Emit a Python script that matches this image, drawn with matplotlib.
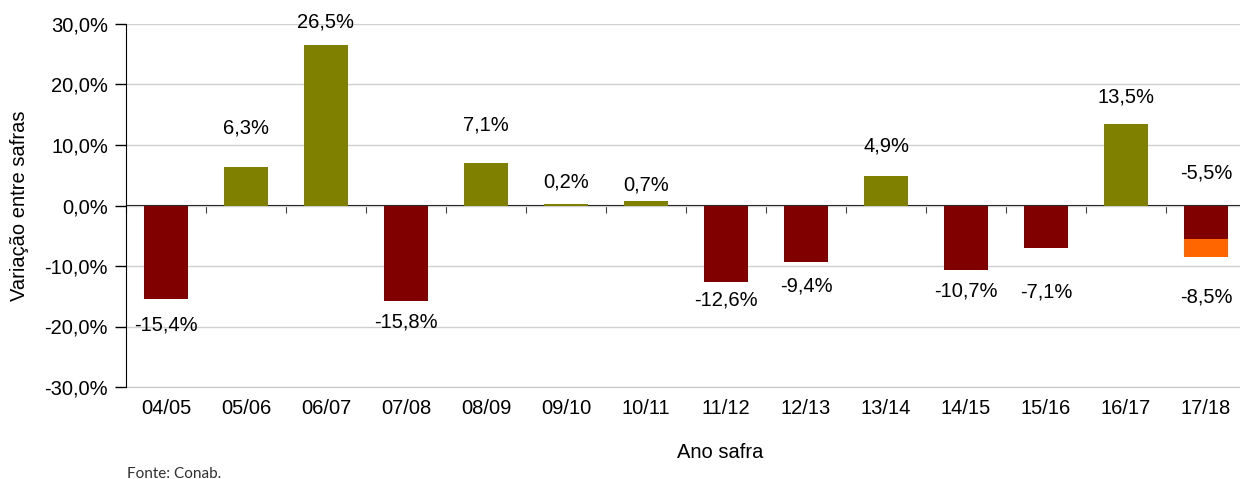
import matplotlib.pyplot as plt
import numpy as np

plt.rcParams['font.family'] = ['Liberation Sans', 'DejaVu Sans']

# Dados (variação entre safras, %)
safras = ['04/05', '05/06', '06/07', '07/08', '08/09', '09/10', '10/11',
          '11/12', '12/13', '13/14', '14/15', '15/16', '16/17', '17/18']
variacao = [-15.4, 6.3, 26.5, -15.8, 7.1, 0.2, 0.7,
            -12.6, -9.4, 4.9, -10.7, -7.1, 13.5, -5.5]
# faixa adicional da última safra (de -5,5% até -8,5%)
extra_1718 = -3.0
total_1718 = -8.5

# posição vertical dos rótulos (ajuste manual, como no original)
rotulo_y = [-19.7, 12.8, 30.3, -19.3, 13.3, 3.9, 3.4,
            -15.6, -13.3, 9.8, -14.1, -14.3, 17.9, 5.4]
rotulo_y_total = -15.1

x = np.arange(len(safras))
cores = ['#808000' if v >= 0 else '#800000' for v in variacao]
fs = 14.5

fig = plt.figure(figsize=(12.4, 4.79), dpi=100)
ax = fig.add_axes([126 / 1240, 92 / 479, 1120 / 1240, 363 / 479])

ax.bar(x, variacao, width=0.56, color=cores, zorder=3)
ax.bar(x[-1], extra_1718, bottom=variacao[-1], width=0.56, color='#FF6600', zorder=3)

for i, v in enumerate(variacao):
    ax.text(x[i], rotulo_y[i], f'{v:.1f}%'.replace('.', ','),
            ha='center', va='center', fontsize=fs)
ax.text(x[-1], rotulo_y_total, f'{total_1718:.1f}%'.replace('.', ','),
        ha='center', va='center', fontsize=fs)

# eixo y
ax.set_ylim(-30, 30)
ax.set_yticks(np.arange(-30, 31, 10))
ax.set_yticklabels([f'{t:.1f}%'.replace('.', ',') for t in np.arange(-30, 31, 10)])
ax.tick_params(axis='y', length=8, width=1, labelsize=fs, pad=5)
ax.yaxis.grid(True, color='#d0d0d0', linewidth=1, zorder=0)
ax.set_ylabel('Variação entre safras', fontsize=fs, labelpad=11)

# categorias na base (linha de -30% em cinza claro)
ax.set_xlim(-0.5, len(safras) - 0.5)
ax.set_xticks(x)
ax.set_xticklabels(safras, fontsize=fs)
ax.tick_params(axis='x', length=0, pad=9)
ax.spines['bottom'].set_color('#c8c8c8')
for s in ['top', 'right']:
    ax.spines[s].set_visible(False)
ax.spines['left'].set_color('black')
ax.spines['left'].set_zorder(5)

# linha do zero com marcas entre as categorias
zero = ax.secondary_xaxis(0.5)
zero.set_xticks(np.arange(-0.5, len(safras) - 0.4, 1))
zero.xaxis.set_ticks_position('bottom')
zero.tick_params(axis='x', direction='out', length=5, color='#404040',
                 labelbottom=False, labeltop=False)
zero.spines['bottom'].set_color('#808080')

fig.text(720 / 1240, 1 - 452 / 479, 'Ano safra', ha='center', va='center', fontsize=fs)
fig.text(127 / 1240, 1 - 474 / 479, 'Fonte: Conab.', ha='left', va='center',
         fontsize=11, color='#303030', family=['Lato', 'DejaVu Sans'])

fig.savefig('out.png', dpi=100)
